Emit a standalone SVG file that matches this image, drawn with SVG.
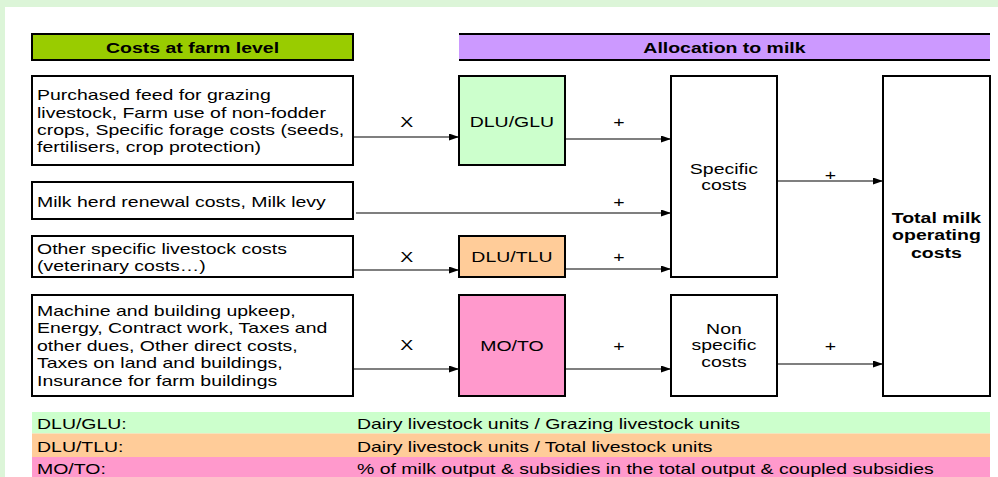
<svg xmlns="http://www.w3.org/2000/svg" width="998" height="477" viewBox="0 0 998 477">
<defs>
<marker id="ah" markerUnits="userSpaceOnUse" markerWidth="11" markerHeight="8" refX="10" refY="3.5" orient="auto">
<path d="M0,0 L10,3.5 L0,7 z" fill="#000"/>
</marker>
<style>
text{font-family:"Liberation Sans",Arial,sans-serif;font-size:15.4px;fill:#000}
.b{font-weight:bold}
.m{text-anchor:middle}
.box{stroke:#000;stroke-width:2}
.con path{stroke:#000;stroke-width:1.2;fill:none;marker-end:url(#ah)}
</style>
</defs>
<rect x="0" y="0" width="998" height="477" fill="#dcf5d8"/>
<rect x="5" y="7" width="993" height="470" fill="#fff"/>

<g id="hdr-farm">
<rect class="box" x="32" y="34" width="321" height="26" fill="#99cc00"/>
<text class="b m" transform="scale(1.265 1)" x="152.2" y="53">Costs at farm level</text>
</g>
<g id="hdr-alloc">
<rect x="459" y="34" width="531" height="26" fill="#cc99ff"/>
<path d="M459,34 H990 M459,60 H990" stroke="#000" stroke-width="2"/>
<text class="b m" transform="scale(1.265 1)" x="572.7" y="53">Allocation to milk</text>
</g>

<g id="cost1">
<rect class="box" x="32" y="76" width="321" height="89" fill="#fff"/>
<text transform="scale(1.265 1)" x="29.25" y="100.5">Purchased feed for grazing</text>
<text transform="scale(1.265 1)" x="29.25" y="118">livestock, Farm use of non-fodder</text>
<text transform="scale(1.265 1)" x="29.25" y="135.5">crops, Specific forage costs (seeds,</text>
<text transform="scale(1.265 1)" x="29.25" y="152.5">fertilisers, crop protection)</text>
</g>
<g id="cost2">
<rect class="box" x="32" y="182" width="321" height="37" fill="#fff"/>
<text transform="scale(1.265 1)" x="29.25" y="207">Milk herd renewal costs, Milk levy</text>
</g>
<g id="cost3">
<rect class="box" x="32" y="236" width="321" height="41" fill="#fff"/>
<text transform="scale(1.265 1)" x="29.25" y="254">Other specific livestock costs</text>
<text transform="scale(1.265 1)" x="29.25" y="271">(veterinary costs…)</text>
</g>
<g id="cost4">
<rect class="box" x="32" y="295" width="321" height="101" fill="#fff"/>
<text transform="scale(1.265 1)" x="29.25" y="316">Machine and building upkeep,</text>
<text transform="scale(1.265 1)" x="29.25" y="333.3">Energy, Contract work, Taxes and</text>
<text transform="scale(1.265 1)" x="29.25" y="350.7">other dues, Other direct costs,</text>
<text transform="scale(1.265 1)" x="29.25" y="368.2">Taxes on land and buildings,</text>
<text transform="scale(1.265 1)" x="29.25" y="385.7">Insurance for farm buildings</text>
</g>

<g id="dlu-glu">
<rect class="box" x="459" y="76" width="106" height="89" fill="#ccffcc"/>
<text class="m" transform="scale(1.265 1)" x="404.7" y="126.7">DLU/GLU</text>
</g>
<g id="dlu-tlu">
<rect class="box" x="459" y="236" width="106" height="41" fill="#ffcc99"/>
<text class="m" transform="scale(1.265 1)" x="404.7" y="262">DLU/TLU</text>
</g>
<g id="mo-to">
<rect class="box" x="459" y="295" width="106" height="101" fill="#ff99cc"/>
<text class="m" transform="scale(1.265 1)" x="404.7" y="351">MO/TO</text>
</g>

<g id="specific">
<rect class="box" x="671" y="76" width="106" height="201" fill="#fff"/>
<text class="m" transform="scale(1.265 1)" x="572.3" y="174">Specific</text>
<text class="m" transform="scale(1.265 1)" x="572.3" y="190.5">costs</text>
</g>
<g id="nonspecific">
<rect class="box" x="671" y="295" width="106" height="101" fill="#fff"/>
<text class="m" transform="scale(1.265 1)" x="572.3" y="334">Non</text>
<text class="m" transform="scale(1.265 1)" x="572.3" y="350.5">specific</text>
<text class="m" transform="scale(1.265 1)" x="572.3" y="367.5">costs</text>
</g>
<g id="total">
<rect class="box" x="883" y="76" width="107" height="320" fill="#fff"/>
<text class="b m" transform="scale(1.265 1)" x="740.3" y="222.7">Total milk</text>
<text class="b m" transform="scale(1.265 1)" x="740.3" y="240.5">operating</text>
<text class="b m" transform="scale(1.265 1)" x="740.3" y="258.3">costs</text>
</g>

<g id="connectors" class="con">
<path d="M353,137 H459"/>
<path d="M565,139 H671"/>
<path d="M356,213 H671"/>
<path d="M353,270 H459"/>
<path d="M565,269 H671"/>
<path d="M777,181 H883"/>
<path d="M353,369 H459"/>
<path d="M565,369 H671"/>
<path d="M777,364 H883"/>
</g>
<g id="connector-labels">
<text class="m" transform="scale(1.265 1)" x="321.5" y="126.7">X</text>
<text class="m" transform="scale(1.265 1)" x="321.5" y="262">X</text>
<text class="m" transform="scale(1.265 1)" x="321.5" y="350.5">X</text>
<text class="m" transform="scale(1.265 1)" x="489.3" y="127">+</text>
<text class="m" transform="scale(1.265 1)" x="489.3" y="207">+</text>
<text class="m" transform="scale(1.265 1)" x="489.3" y="262.5">+</text>
<text class="m" transform="scale(1.265 1)" x="489.3" y="351">+</text>
<text class="m" transform="scale(1.265 1)" x="656.5" y="180">+</text>
<text class="m" transform="scale(1.265 1)" x="656.5" y="351">+</text>
</g>

<g id="legend">
<rect x="32" y="412" width="958" height="21.5" fill="#ccffcc"/>
<rect x="32" y="433.5" width="958" height="23.5" fill="#ffcc99"/>
<rect x="32" y="457" width="958" height="20" fill="#ff99cc"/>
<text transform="scale(1.265 1)" x="29.25" y="429">DLU/GLU:</text>
<text transform="scale(1.265 1)" x="282.2" y="429">Dairy livestock units / Grazing livestock units</text>
<text transform="scale(1.265 1)" x="29.25" y="451.7">DLU/TLU:</text>
<text transform="scale(1.265 1)" x="282.2" y="451.7">Dairy livestock units / Total livestock units</text>
<text transform="scale(1.265 1)" x="29.25" y="474">MO/TO:</text>
<text transform="scale(1.265 1)" x="282.2" y="474">% of milk output &amp; subsidies in the total output &amp; coupled subsidies</text>
</g>
</svg>
